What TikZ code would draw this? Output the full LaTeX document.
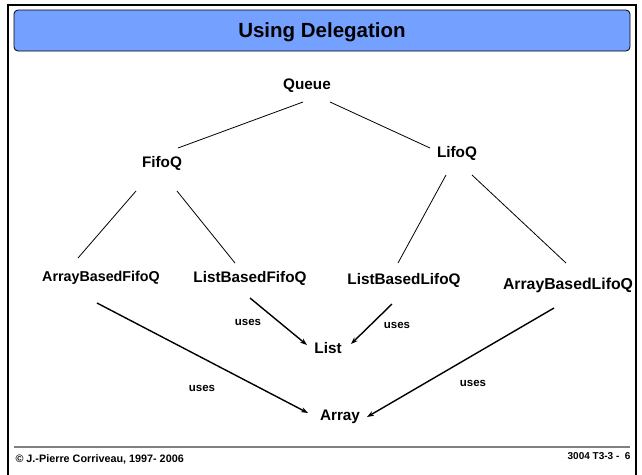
\documentclass[tikz,border=0pt]{standalone}
\usepackage{fontspec}
\setmainfont{Liberation Sans}
\usepackage{tikz}
\usetikzlibrary{arrows.meta,calc,positioning}

\definecolor{titleblue}{RGB}{116,160,255}
\tikzset{
  cls/.style={font=\fontsize{15.3}{17}\selectfont\bfseries, inner sep=1pt},
  useslbl/.style={font=\fontsize{11.5}{13}\selectfont\bfseries, inner sep=1pt},
  inherit/.style={line width=0.8pt},
  delegate/.style={line width=1.4pt, -{Stealth[length=7pt,width=5pt]}},
}

\begin{document}
\begin{tikzpicture}[x=1pt,y=-1pt]
\useasboundingbox (0,0) rectangle (642,474);
% Slide frame and title bar
\draw[line width=2.5pt] (8,480) -- (8,5) -- (636,5) -- (636,480);
\draw[fill=titleblue, rounded corners=4pt, line width=0.8pt] (14,10) rectangle (630,51);
\node[font=\fontsize{20.5}{24}\selectfont\bfseries] (title) at (322,32) {Using Delegation};
% Classes
\node[cls] (queue) at (307,86) {Queue};
\node[cls] (fifo) at (162,163) {FifoQ};
\node[cls] (lifo) at (457,153) {LifoQ};
\node[cls, font=\fontsize{14.3}{16}\selectfont\bfseries] (abf) at (101,278) {ArrayBasedFifoQ};
\node[cls] (lbf) at (250,278) {ListBasedFifoQ};
\node[cls] (lbl) at (404,280) {ListBasedLifoQ};
\node[cls, font=\fontsize{15.8}{18}\selectfont\bfseries] (abl) at (568,285) {ArrayBasedLifoQ};
\node[cls] (list) at (328,348) {List};
\node[cls] (array) at (340,417) {Array};
% Inheritance lines
\draw[inherit] ($(queue)+(-4,16)$) -- ($(fifo)+(16,-15)$);
\draw[inherit] ($(queue)+(23,16)$) -- ($(lifo)+(-27,-5)$);
\draw[inherit] ($(fifo)+(-26,28)$) -- ($(abf)+(-23,-20)$);
\draw[inherit] ($(fifo)+(15,28)$) -- ($(lbf)+(-15,-15)$);
\draw[inherit] ($(lifo)+(-11,22)$) -- ($(lbl)+(-6,-17)$);
\draw[inherit] ($(lifo)+(15,22)$) -- ($(abl)+(-2,-22)$);
% Delegation arrows
\draw[delegate] ($(abf)+(-4,25)$) -- ($(array)+(-32,-4)$);
\draw[delegate] ($(lbf)+(0,20)$) -- ($(list)+(-21,-3)$);
\draw[delegate] ($(lbl)+(-12,24)$) -- ($(list)+(23,-4)$);
\draw[delegate] ($(abl)+(-14,23)$) -- ($(array)+(27,0)$);
\node[useslbl] (u1) at (248,322) {uses};
\node[useslbl] (u2) at (397,325) {uses};
\node[useslbl] (u3) at (202,388) {uses};
\node[useslbl] (u4) at (473,383) {uses};
% Footer
\draw[line width=1.5pt, black!50] (14,447) -- (630,447);
\node[font=\fontsize{10.8}{13}\selectfont\bfseries, anchor=west] (copy) at (12,459) {© J.-Pierre Corriveau, 1997- 2006};
\node[font=\fontsize{10}{12}\selectfont\bfseries, anchor=east] (pageno) at (634,456) {3004 T3-3 -\ \ 6};
\end{tikzpicture}
\end{document}
